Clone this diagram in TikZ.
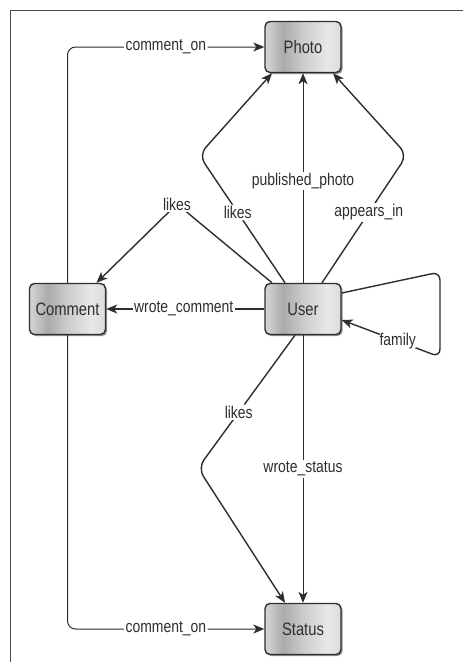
\documentclass[tikz,border=0pt]{standalone}
\usepackage{fontspec}
\newfontfamily\narrowsans{Liberation Sans}[FakeStretch=0.82]
\usetikzlibrary{arrows.meta,shadows}
% TikZ fits the 25bp--75bp band of a shading to the path, so the stops live there
\pgfdeclarehorizontalshading{boxshade}{100bp}{color(0bp)=(black!16); color(25bp)=(black!16); color(37bp)=(black!33); color(50bp)=(black!20); color(66bp)=(black!9); color(75bp)=(black!14); color(100bp)=(black!14)}
\definecolor{ink}{HTML}{2E2E2E}
\tikzset{
  entity/.style={draw=ink, line width=1.4pt, rounded corners=5pt,
    shading=boxshade, minimum width=76pt, minimum height=51pt, inner sep=0pt,
    drop shadow={shadow xshift=1.6pt, shadow yshift=-1.6pt, fill=black!60, opacity=0.7},
    font=\narrowsans\fontsize{18}{21}\selectfont, text=ink},
  edge/.style={draw=ink, line width=1pt, -{Stealth[length=11pt,width=9pt,inset=3pt]}},
  slant/.style={line width=1.4pt},
  lbl/.style={fill=white, inner sep=1.5pt, font=\narrowsans\fontsize{17}{20}\selectfont, text=ink}
}
\begin{document}
\begin{tikzpicture}[x=1pt,y=-1pt]
\useasboundingbox (0,0) rectangle (463,662);
\fill[white] (0,0) rectangle (463,662);
% frame
\draw[black!70, line width=1pt] (10,662) -- (10,10) -- (463,10);

% entities
\node[entity] (photo)   at (303,47)  {Photo};
\node[entity] (user)    at (303,309) {User};
\node[entity] (comment) at (67.5,309) {Comment};
\node[entity] (status)  at (303,629) {Status};

% comment relations
\draw[edge, rounded corners=8pt] (comment.north) |- node[lbl, pos=0.75] {comment\_on} (photo.west);
\draw[edge, rounded corners=8pt] (comment.south) |- node[lbl, pos=0.75] {comment\_on} (status.west);

% user to photo
\coordinate (bendL) at (199,155);
\coordinate (bendR) at (407,155);
\draw[edge, slant, rounded corners=10pt] ([xshift=-18pt]user.north) -- node[lbl, pos=0.55] {likes} (bendL) -- ([xshift=-31pt]photo.south);
\draw[edge] (user.north) -- node[lbl, pos=0.486] {published\_photo} (photo.south);
\draw[edge, slant, rounded corners=10pt] ([xshift=19pt]user.north) -- node[lbl, pos=0.55] {appears\_in} (bendR) -- ([xshift=30pt]photo.south);

% user to comment
\coordinate (cbend) at (177,204);
\draw[edge, slant] ([xshift=-31pt]user.north) -- (cbend) -- ([xshift=29pt]comment.north);
\node[lbl] at (cbend) {likes};
\draw[edge, slant] (user.west) -- node[lbl, pos=0.51] {wrote\_comment} (comment.east);

% family loop
\coordinate (ftop) at (440,272);
\coordinate (fbot) at (440,357);
\draw[edge, slant, rounded corners=8pt] ([yshift=16pt]user.east) -- (ftop) -- (fbot) -- node[lbl, pos=0.43] {family} ([yshift=-11pt]user.east);

% user to status
\coordinate (sbend) at (198,468);
\draw[edge, slant, rounded corners=10pt] ([xshift=-8pt]user.south) -- node[lbl, pos=0.58] {likes} (sbend) -- ([xshift=-18pt]status.north);
\draw[edge] (user.south) -- node[lbl, pos=0.5] {wrote\_status} (status.north);
\end{tikzpicture}
\end{document}
